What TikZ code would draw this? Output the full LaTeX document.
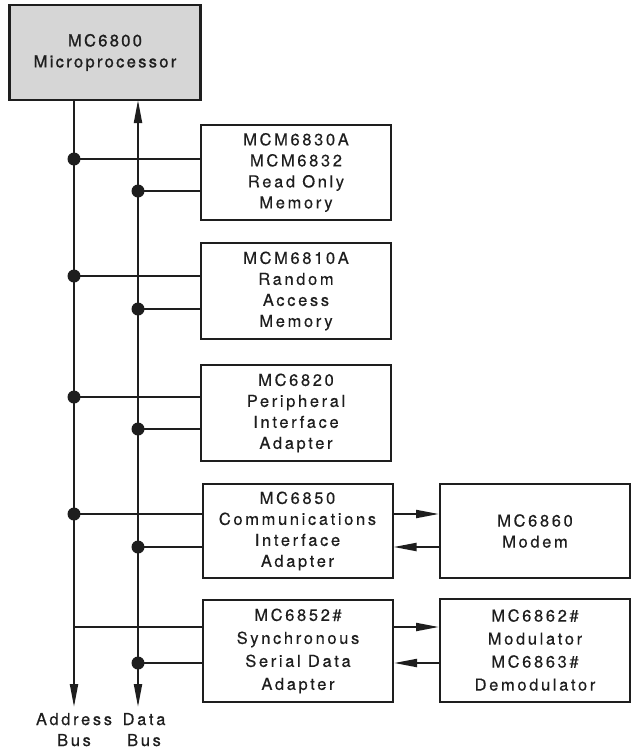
\documentclass[tikz,border=0pt]{standalone}
\usepackage{fontspec}
\setmainfont[LetterSpace=16,FakeBold=0.3]{TeX Gyre Heros}
\newfontfamily\chipfont[LetterSpace=14,FakeBold=1.2]{TeX Gyre Heros}
\usepackage{xcolor}
\usetikzlibrary{arrows.meta}
\definecolor{ink}{HTML}{1E1E1E}
\definecolor{chip}{HTML}{D6D6D6}

\begin{document}
\begin{tikzpicture}[x=1pt,y=-1pt,line width=2pt,draw=ink,text=ink,
  blk/.style={draw=ink,fill=white,minimum width=190pt,minimum height=95pt,inner sep=0pt,align=center,font=\fontsize{16.5}{21}\selectfont},
  tall/.style={font=\fontsize{16.5}{23}\selectfont},
  tap/.style={circle,fill=ink,inner sep=0pt,minimum size=13pt},
  tip/.style={-{Triangle[length=23pt,width=8pt]}},
  buslabel/.style={below=5pt,inner sep=0pt,align=center,font=\fontsize{16.5}{21}\selectfont}]
\useasboundingbox (0,0) rectangle (631,750);
\node[blk,fill=chip,minimum width=191pt,line width=2.4pt,font=\chipfont\fontsize{16.5}{21}\selectfont] (mpu) at (105,52.5) {MC6800\\Microprocessor};
\node[blk] (rom) at (296,172.5) {MCM6830A\\MCM6832\\Read Only\\Memory};
\node[blk,minimum height=96pt] (ram) at (296,291) {MCM6810A\\Random\\Access\\Memory};
\node[blk,minimum height=96pt] (pia) at (296,413) {MC6820\\Peripheral\\Interface\\Adapter};
\node[blk,minimum height=94pt] (acia) at (297.5,531) {MC6850\\Communications\\Interface\\Adapter};
\node[blk,tall,minimum height=102pt] (ssda) at (298,651) {MC6852\#\\Synchronous\\Serial Data\\Adapter};
\node[blk,minimum height=94pt] (modem) at (535,531) {MC6860\\Modem};
\node[blk,tall,minimum height=103pt] (modu) at (535,650) {MC6862\#\\Modulator\\MC6863\#\\Demodulator};
\coordinate (abus) at (74,100);\coordinate (aend) at (74,707);
\coordinate (dbus) at (138,100);\coordinate (dend) at (138,707);
\draw[tip] (abus) -- (aend) node[buslabel] {Address\\Bus};
\draw[{Triangle[length=23pt,width=8pt]}-{Triangle[length=23pt,width=8pt]}] (dbus) -- (dend) node[buslabel,xshift=6pt] {Data\\Bus};
\foreach \blk/\ya/\yd in {rom/159/191,ram/276/309,pia/397/429,acia/514/547}{
  \draw (abus|-0,\ya) node[tap] {} -- (\blk.west|-0,\ya);
  \draw (dbus|-0,\yd) node[tap] {} -- (\blk.west|-0,\yd);}
\draw (abus|-0,627) -- (ssda.west|-0,627);\draw (dbus|-0,663) node[tap] {} -- (ssda.west|-0,663);
\draw[tip] (acia.east|-0,514) -- (modem.west|-0,514);\draw[tip] (modem.west|-0,547) -- (acia.east|-0,547);
\draw[tip] (ssda.east|-0,627) -- (modu.west|-0,627);\draw[tip] (modu.west|-0,663) -- (ssda.east|-0,663);
\end{tikzpicture}
\end{document}
